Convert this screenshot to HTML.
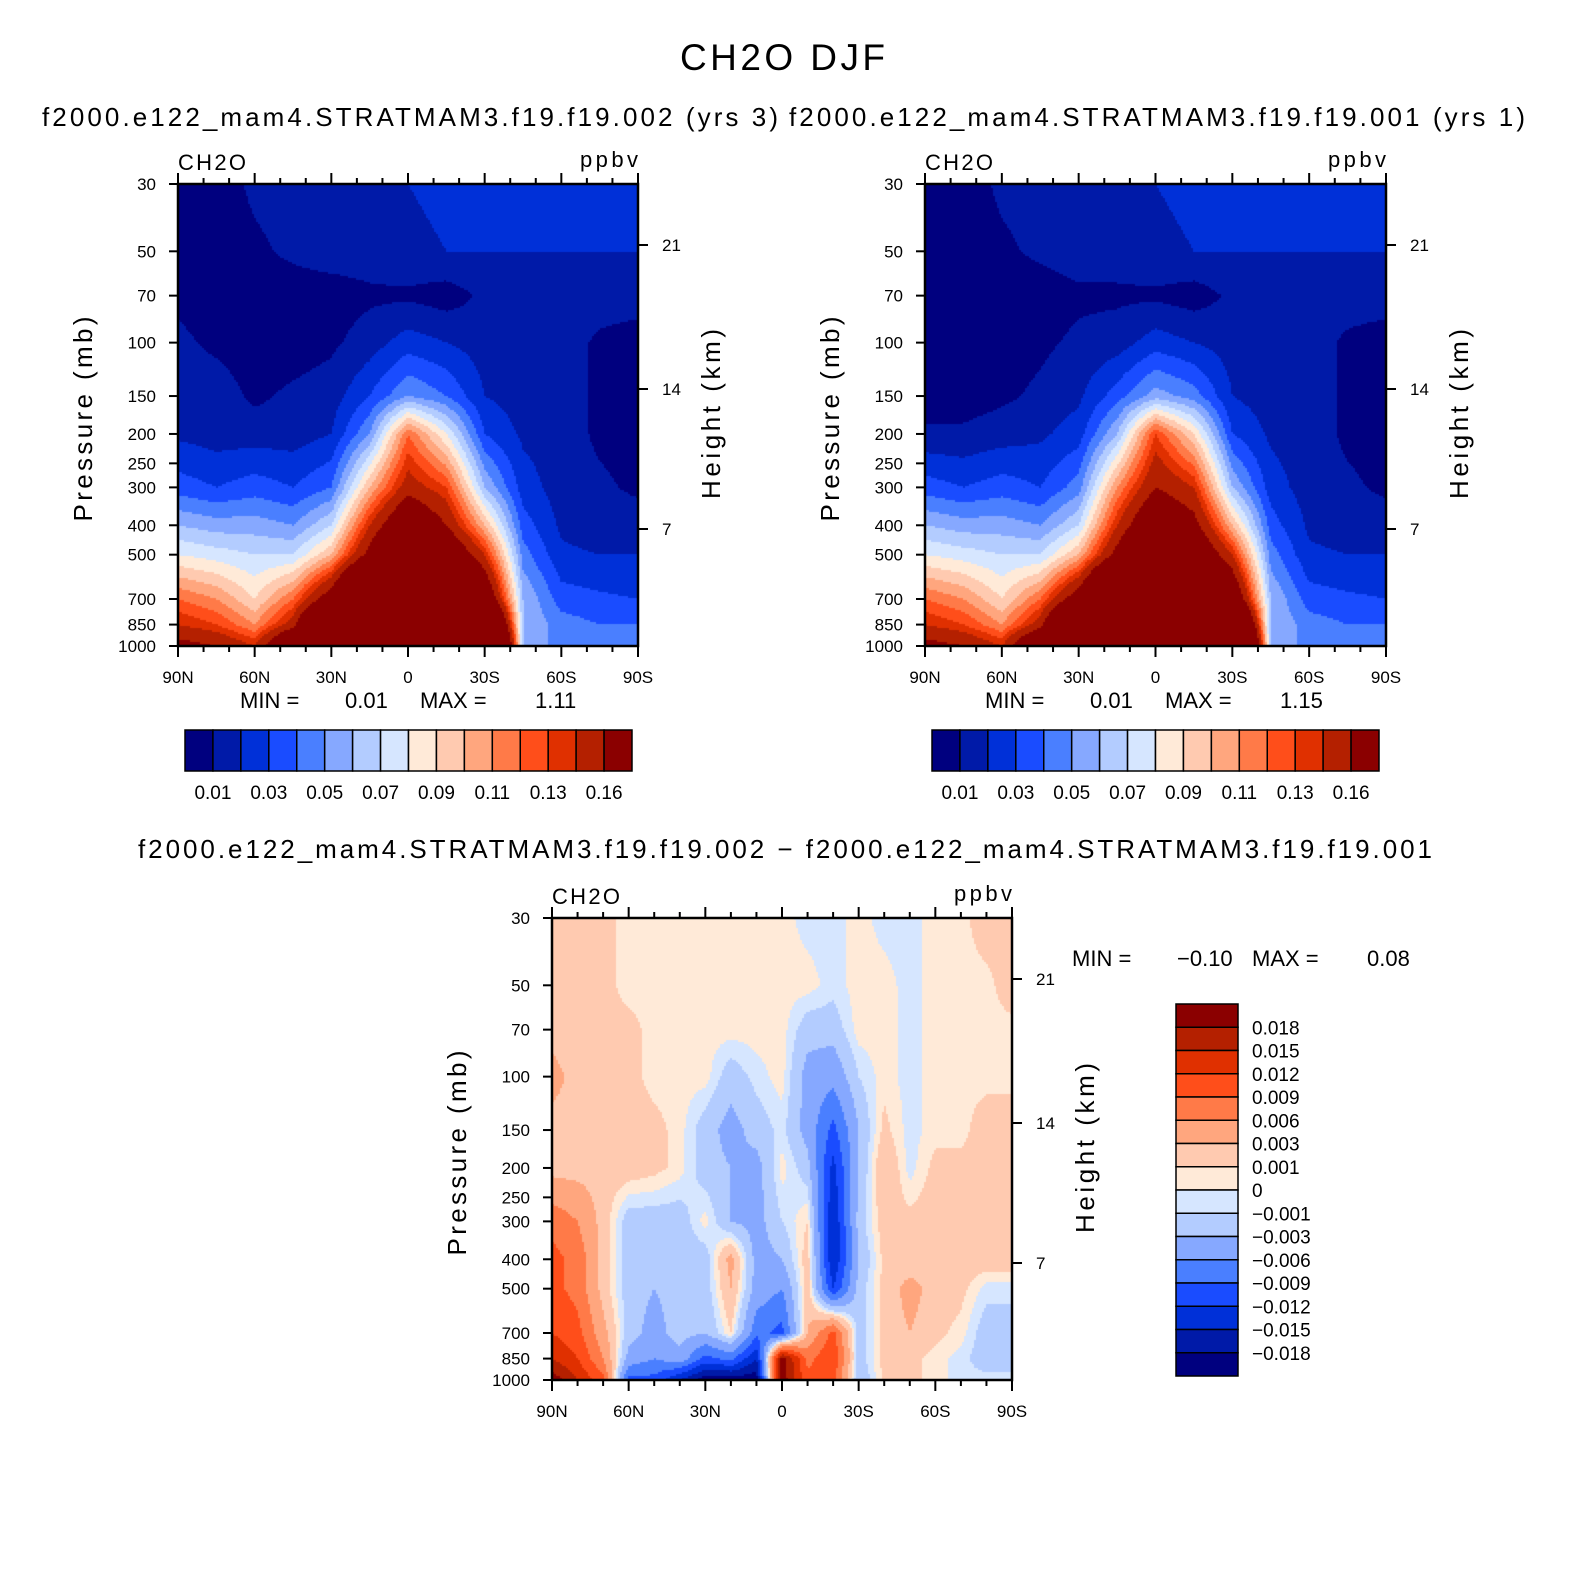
<!DOCTYPE html>
<html><head><meta charset="utf-8">
<style>
html,body{margin:0;padding:0;background:#fff;}
#root{position:relative;width:1585px;height:1588px;overflow:hidden;font-family:"Liberation Sans",sans-serif;}
canvas{position:absolute;}
svg{position:absolute;left:0;top:0;}
</style></head>
<body>
<div id="root">
<canvas id="c1" width="460" height="462" style="left:178px;top:184px"></canvas>
<canvas id="c2" width="461" height="462" style="left:925px;top:184px"></canvas>
<canvas id="c3" width="460" height="462" style="left:552px;top:918px"></canvas>
<svg id="svg" width="1585" height="1588"></svg>
</div>
<script>
// ---- data ----
const pressureLevels=[30,50,70,100,150,200,300,400,500,700,850,1000];
const latsCoarse=[90,75,60,45,30,15,0,-15,-30,-45,-60,-75,-90];
const latsFine=[90,80,70,60,50,40,30,20,10,0,-10,-20,-30,-40,-50,-60,-70,-80,-90];
const field1=[
[.005,.005,.012,.015,.015,.018,.02,.022,.025,.025,.025,.025,.025],
[.005,.005,.008,.012,.015,.015,.018,.02,.02,.02,.02,.02,.02],
[.008,.005,.005,.005,.005,.008,.008,.005,.012,.015,.015,.015,.015],
[.012,.008,.005,.005,.008,.015,.025,.02,.015,.015,.015,.008,.005],
[.015,.015,.008,.012,.015,.03,.05,.04,.02,.015,.015,.008,.005],
[.018,.015,.015,.015,.02,.05,.12,.08,.03,.018,.015,.008,.005],
[.035,.03,.035,.03,.04,.1,.15,.13,.06,.025,.015,.012,.008],
[.06,.055,.055,.05,.07,.14,.2,.16,.1,.035,.018,.015,.015],
[.08,.075,.07,.07,.1,.17,.25,.2,.14,.045,.022,.02,.02],
[.12,.11,.09,.12,.18,.3,.4,.3,.2,.06,.035,.032,.03],
[.14,.13,.11,.15,.28,.5,.5,.4,.3,.06,.045,.04,.04],
[.17,.16,.14,.22,.5,.8,.9,.6,.4,.06,.045,.045,.045]];
const field2=[
[.005,.005,.012,.015,.015,.018,.02,.022,.025,.025,.025,.025,.025],
[.005,.005,.008,.012,.015,.015,.018,.02,.02,.02,.02,.02,.02],
[.005,.005,.005,.005,.008,.008,.008,.005,.012,.015,.015,.015,.015],
[.005,.005,.005,.008,.012,.015,.025,.02,.015,.015,.015,.008,.005],
[.005,.005,.008,.012,.018,.035,.055,.045,.02,.015,.015,.008,.005],
[.012,.012,.015,.018,.025,.06,.13,.09,.03,.018,.015,.008,.005],
[.035,.03,.035,.03,.045,.11,.16,.14,.06,.025,.015,.012,.008],
[.06,.055,.055,.05,.07,.14,.2,.17,.1,.035,.018,.015,.015],
[.08,.075,.07,.07,.1,.17,.25,.2,.14,.045,.022,.02,.02],
[.12,.11,.09,.12,.18,.3,.4,.3,.2,.06,.035,.032,.03],
[.14,.13,.11,.15,.28,.5,.5,.4,.3,.06,.045,.04,.04],
[.17,.16,.14,.22,.5,.8,.9,.6,.4,.06,.045,.045,.045]];
const fieldDiff=[
[.002,.002,.0015,.0005,.0005,.0005,.0005,.0005,.0005,.0005,-.0005,-.0005,.0005,-.0005,-.0005,.0005,.0005,.002,.002],
[.002,.002,.0015,.0005,.0005,.0005,.0005,.0005,.0005,.0005,.0005,-.0005,.0005,.0005,-.0005,.0005,.0005,.0005,.002],
[.002,.0015,.0015,.0015,.0005,.0005,.0005,.0005,.0005,.0005,-.002,-.002,.0005,.0005,-.0005,.0005,.0005,.0005,.0005],
[.004,.002,.0015,.0015,.0005,.0005,.0005,-.002,-.0005,.0005,-.004,-.005,-.001,.0005,-.0005,.0005,.0005,.0005,.0005],
[.002,.002,.002,.002,.0015,.0005,-.002,-.004,-.002,-.0005,-.004,-.01,-.003,.0015,-.0005,.0005,.0005,.002,.002],
[.002,.002,.002,.002,.0015,.0005,-.002,-.003,-.004,.0005,-.002,-.013,-.003,.003,-.0005,.0015,.0015,.0015,.0015],
[.008,.006,.002,-.002,-.002,-.002,.0005,-.003,-.004,-.001,.001,-.015,-.002,.002,.0015,.002,.002,.002,.002],
[.01,.008,.002,-.002,-.002,-.002,-.002,.004,-.004,-.003,.002,-.015,-.003,.0015,.0015,.002,.002,.002,.002],
[.01,.008,.002,-.002,-.003,-.002,-.002,.003,-.004,-.006,.002,-.012,-.002,.0015,.004,.002,.0015,-.0005,-.0005],
[.012,.01,.004,-.002,-.004,-.002,-.003,.001,-.008,-.01,.003,.01,-.002,.0015,.003,.0015,.0005,-.002,-.002],
[.015,.012,.006,-.004,-.006,-.004,-.01,-.008,-.015,.02,.008,.012,-.002,.0015,.0015,.0005,-.0005,-.002,-.002],
[.02,.015,.01,-.01,-.01,-.015,-.02,-.02,-.02,.02,.01,.01,-.003,.0015,.0015,.0005,-.0005,-.0005,-.0005]];
const levelsAbs=[.01,.02,.03,.04,.05,.06,.07,.08,.09,.10,.11,.12,.13,.14,.16];
const labelsAbs=["0.01","0.03","0.05","0.07","0.09","0.11","0.13","0.16"];
const levelsDiff=[-.018,-.015,-.012,-.009,-.006,-.003,-.001,0,.001,.003,.006,.009,.012,.015,.018];
const labelsDiff=["0.018","0.015","0.012","0.009","0.006","0.003","0.001","0","\u22120.001","\u22120.003","\u22120.006","\u22120.009","\u22120.012","\u22120.015","\u22120.018"];
const pTickLabels=[30,50,70,100,150,200,250,300,400,500,700,850,1000];
const latTickLabels=["90N","60N","30N","0","30S","60S","90S"];
const heightLabels=["7","14","21"];
const colors=["#00007f","#001aa8","#0030d8","#1a4cff","#4a7fff","#86a8ff","#b3ccff","#d6e6ff","#ffead8","#ffcab0","#ffa67e","#ff7a48","#ff4e1a","#e03000","#b42000","#8b0000"];

// ---- helpers ----
const NS="http://www.w3.org/2000/svg";
const svg=document.getElementById('svg');
function el(tag,attrs,txt){const e=document.createElementNS(NS,tag);for(const k in attrs)e.setAttribute(k,attrs[k]);if(txt!==undefined)e.textContent=txt;svg.appendChild(e);return e;}
function lp(p){return Math.log(p/30)/Math.log(1000/30);}
function interp(arr,v){
  const asc=arr[arr.length-1]>arr[0];
  for(let i=0;i<arr.length-1;i++){const a=arr[i],b=arr[i+1];
    if(asc?(v>=a&&v<=b):(v<=a&&v>=b))return i+(v-a)/(b-a);}
  return asc?(v<arr[0]?0:arr.length-1):(v>arr[0]?0:arr.length-1);
}
function level(v,levels){let i=0;while(i<levels.length&&v>=levels[i])i++;return i;}
function drawField(id,field,lats,levels){
  const c=document.getElementById(id),ctx=c.getContext('2d');
  const W=c.width,H=c.height,s=2;
  const lpl=pressureLevels.map(lp);
  for(let py=0;py<H;py+=s){
    const fy=interp(lpl,(py+s/2)/H);const j=Math.min(Math.floor(fy),lpl.length-2),ty=fy-j;
    for(let px=0;px<W;px+=s){
      const lat=90-180*(px+s/2)/W;
      const fx=interp(lats,lat);const i=Math.min(Math.floor(fx),lats.length-2),tx=fx-i;
      const v=(field[j][i]*(1-tx)+field[j][i+1]*tx)*(1-ty)+(field[j+1][i]*(1-tx)+field[j+1][i+1]*tx)*ty;
      ctx.fillStyle=colors[level(v,levels)];
      ctx.fillRect(px,py,s,s);
    }
  }
}
function drawAxes(x0,y0,w,h,pref){
  const yP=p=>y0+lp(p)*h;
  el('rect',{x:x0,y:y0,width:w,height:h,fill:'none',stroke:'#000','stroke-width':2.5,});
  pTickLabels.forEach(p=>{const y=yP(p);
    const t=el('line',{x1:x0-9,x2:x0,y1:y,y2:y,stroke:'#000','stroke-width':2});
    
    const l=el('text',{x:x0-22,y:y+6,'font-size':17,'text-anchor':'end'},String(p));
    
  });
  for(let k=0;k<=18;k++){const x=x0+w*k/18,maj=k%3===0,len=maj?11:6;
    const a=el('line',{x1:x,x2:x,y1:y0+h,y2:y0+h+len,stroke:'#000','stroke-width':2});
    
    const b=el('line',{x1:x,x2:x,y1:y0,y2:y0-len,stroke:'#000','stroke-width':2});
    
    if(k%3===0){const l=el('text',{x:x,y:y0+h+37,'font-size':17,'text-anchor':'middle'},latTickLabels[k/3]);
      }
  }
  const hy=[345,205,61];
  heightLabels.forEach((s,i)=>{const y=y0+hy[i];
    const t=el('line',{x1:x0+w,x2:x0+w+10,y1:y,y2:y,stroke:'#000','stroke-width':2});
    
    const l=el('text',{x:x0+w+24,y:y+6,'font-size':17},s);
    
  });
  el('text',{x:0,y:0,'font-size':26,'text-anchor':'middle',textLength:205,transform:`translate(${x0-86},${y0+h/2+4}) rotate(-90)`,},'Pressure  (mb)');
  el('text',{x:0,y:0,'font-size':26,'text-anchor':'middle',textLength:170,transform:`translate(${x0+w+82},${y0+h/2-1}) rotate(-90)`,},'Height  (km)');
  el('text',{x:x0,y:y0-14,'font-size':22,textLength:68,},'CH2O');
  el('text',{x:x0+w,y:y0-17,'font-size':22,'text-anchor':'end',textLength:58,},'ppbv');
}
function hBar(x0,y0,w,h,pref){
  const bw=w/16;
  colors.forEach((c,i)=>{const r=el('rect',{x:x0+i*bw,y:y0,width:bw,height:h,fill:c,stroke:'#000','stroke-width':1.5});
    });
  labelsAbs.forEach((s,k)=>{const l=el('text',{x:x0+(2*k+1)*bw,y:y0+h+28,'font-size':19,'text-anchor':'middle'},s);
    });
}

drawField('c1',field1,latsCoarse,levelsAbs);
drawField('c2',field2,latsCoarse,levelsAbs);
drawField('c3',fieldDiff,latsFine,levelsDiff);

el('text',{x:680,y:70,'font-size':37,textLength:205,},'CH2O DJF');
el('text',{x:42,y:126,'font-size':26,textLength:736,},'f2000.e122_mam4.STRATMAM3.f19.f19.002 (yrs 3)');
el('text',{x:789,y:126,'font-size':26,textLength:736,},'f2000.e122_mam4.STRATMAM3.f19.f19.001 (yrs 1)');
el('text',{x:138,y:858,'font-size':26,textLength:1294,},'f2000.e122_mam4.STRATMAM3.f19.f19.002 \u2212 f2000.e122_mam4.STRATMAM3.f19.f19.001');

drawAxes(178,184,460,462,'panel1');
drawAxes(925,184,461,462,'panel2');
drawAxes(552,918,460,462,'diff');

function minmax(x,y,a,b,c,d,name){
  const t1=el('text',{x:x,y:y,'font-size':22},a);
  const t2=el('text',{x:x+105,y:y,'font-size':22},b);
  const t3=el('text',{x:x+180,y:y,'font-size':22},c);
  const t4=el('text',{x:x+295,y:y,'font-size':22},d);
}
minmax(240,708,'MIN  =','0.01','MAX  =','1.11','panel1');
minmax(985,708,'MIN  =','0.01','MAX  =','1.15','panel2');
minmax(1072,966,'MIN  =','\u22120.10','MAX  =','0.08','diff');

hBar(185,730,447,41,'panel1');
hBar(932,730,447,41,'panel2');

(function(){const x0=1176,y0=1004,w=62,h=372,bh=h/16;
  colors.slice().reverse().forEach((c,i)=>{const r=el('rect',{x:x0,y:y0+i*bh,width:w,height:bh,fill:c,stroke:'#000','stroke-width':1.5});
    });
  labelsDiff.forEach((s,k)=>{const l=el('text',{x:1252,y:y0+(k+1)*bh+7,'font-size':19},s);
    });
})();
</script>
</body></html>
